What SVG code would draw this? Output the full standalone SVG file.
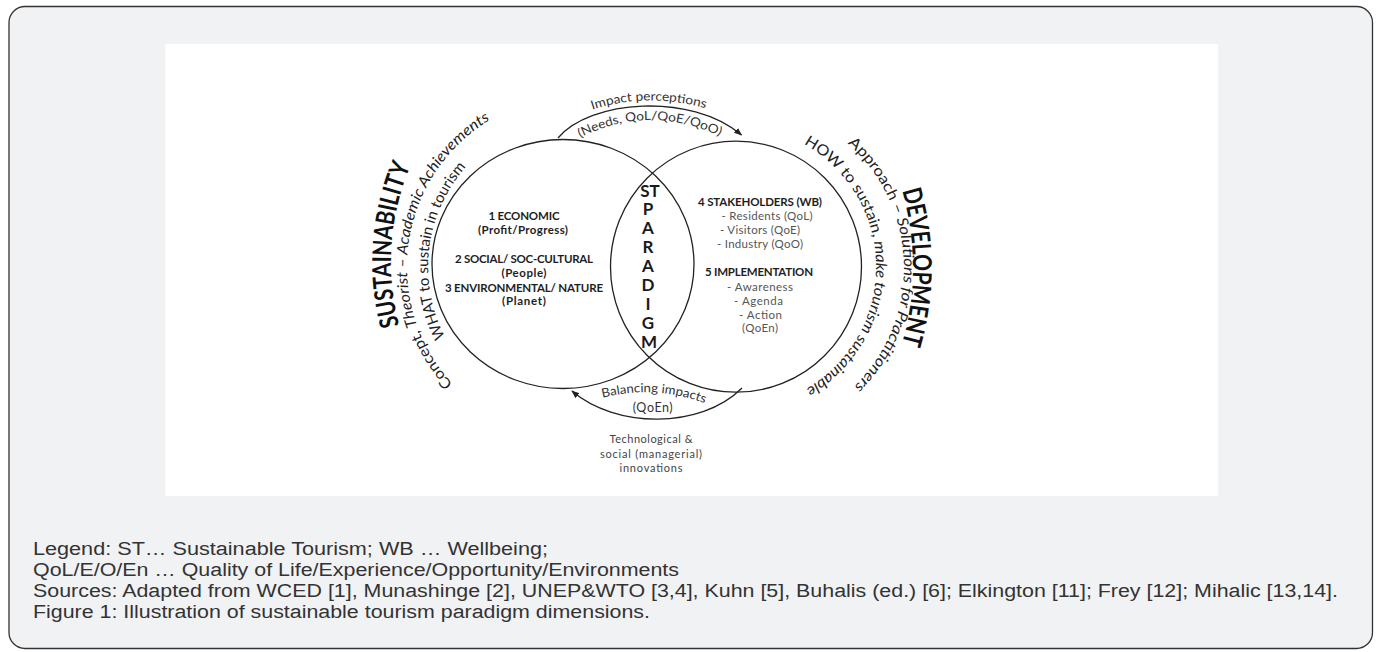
<svg xmlns="http://www.w3.org/2000/svg" width="1380" height="652" viewBox="0 0 1380 652">
<style>
.c{font-family:Lato,"Open Sans","Liberation Sans",sans-serif;}
.b{font-weight:bold;fill:#1e1e1e;}
.g{fill:#555;}
.ring{fill:none;stroke:#222;stroke-width:1.3;}
.con{fill:none;stroke:#222;stroke-width:1.3;}
.lg{font-family:"Liberation Sans",Arial,sans-serif;font-size:18px;fill:#333;}
.arc{font-size:15px;fill:#222;}
.big{font-size:26px;font-weight:bold;fill:#111;}
.sm{font-size:12.5px;fill:#333;}
.in{font-size:11.5px;}
.pl{font-size:17px;font-weight:bold;fill:#1a1a1a;}
</style>
<defs>
<marker id="arr" viewBox="0 0 10 10" refX="9" refY="5" markerWidth="8" markerHeight="8" markerUnits="userSpaceOnUse" orient="auto"><path d="M0,1 L10,5 L0,9 z" fill="#222"/></marker>
<path id="pSus" d="M 424.4 386.5 A 249 249 0 0 1 443.8 108.7"/>
<path id="pCon" d="M 498.2 418.9 A 172 172 0 0 1 543.2 98.8"/>
<path id="pWhat" d="M 510.4 401.5 A 151 151 0 0 1 545 119.9"/>
<path id="pDev" d="M 869.3 119.4 A 271 271 0 0 1 869.3 414.6"/>
<path id="pApp" d="M 790.7 110.6 A 166 166 0 0 1 798.8 422.4"/>
<path id="pHow" d="M 782.1 134.1 A 141 141 0 0 1 784.4 399.1"/>
<path id="pImp" d="M 586 112 Q 645 90 712 110"/>
<path id="pNeeds" d="M 574 141 Q 648 100 726 139"/>
<path id="pBal" d="M 598 399 Q 655 383 709 405"/>
</defs>

<g id="frame">
<rect x="9" y="6.5" width="1363.5" height="642" rx="16" ry="16" fill="#f1f2f4" stroke="#333" stroke-width="1.3"/>
<rect x="165.5" y="44" width="1052.5" height="452" fill="#ffffff"/>
</g>

<g id="left-circle">
<ellipse class="ring" cx="563" cy="264" rx="131" ry="124.5"/>
<g class="c b in" text-anchor="middle">
<text x="524" y="220" textLength="71">1 ECONOMIC</text>
<text x="523" y="233.5" textLength="90">(Profit/Progress)</text>
<text x="524" y="262.5" textLength="138">2 SOCIAL/ SOC-CULTURAL</text>
<text x="524" y="276.5" textLength="45">(People)</text>
<text x="524" y="291.5" textLength="158">3 ENVIRONMENTAL/ NATURE</text>
<text x="524" y="305" textLength="44">(Planet)</text>
</g>
</g>

<g id="right-circle">
<circle class="ring" cx="736" cy="266.7" r="125.5"/>
<g class="c in" text-anchor="middle">
<text class="b" x="760" y="206" textLength="124">4 STAKEHOLDERS (WB)</text>
<text class="g" x="767" y="220" textLength="91">- Residents (QoL)</text>
<text class="g" x="760" y="234" textLength="80">- Visitors (QoE)</text>
<text class="g" x="760" y="248.3" textLength="86">- Industry (QoO)</text>
<text class="b" x="759" y="276" textLength="108">5 IMPLEMENTATION</text>
<text class="g" x="760" y="290.7" textLength="66">- Awareness</text>
<text class="g" x="758.5" y="304.5" textLength="49">- Agenda</text>
<text class="g" x="760.5" y="319" textLength="43">- Action</text>
<text class="g" x="760" y="332" textLength="36">(QoEn)</text>
</g>
</g>

<g id="paradigm" class="c pl" text-anchor="middle">
<text x="650" y="196.5">ST</text>
<text x="648" y="215.4">P</text>
<text x="648" y="234.3">A</text>
<text x="648" y="253.1">R</text>
<text x="648" y="272">A</text>
<text x="648" y="290.9">D</text>
<text x="648" y="309.8">I</text>
<text x="648" y="328.6">G</text>
<text x="649" y="347.5">M</text>
</g>

<g id="sustainability" class="c" text-anchor="middle">
<text class="big"><textPath href="#pSus" startOffset="50%" textLength="163" lengthAdjust="spacingAndGlyphs">SUSTAINABILITY</textPath></text>
<text class="arc"><textPath href="#pCon" startOffset="50%" textLength="305" lengthAdjust="spacingAndGlyphs">Concept, <tspan font-style="italic">Theorist – Academic Achievements</tspan></textPath></text>
<text class="arc"><textPath href="#pWhat" startOffset="50%" textLength="182" lengthAdjust="spacingAndGlyphs">WHAT to sustain in tourism</textPath></text>
</g>

<g id="development" class="c" text-anchor="middle">
<text class="big"><textPath href="#pDev" startOffset="50%" textLength="155" lengthAdjust="spacingAndGlyphs">DEVELOPMENT</textPath></text>
<text class="arc"><textPath href="#pApp" startOffset="50%" textLength="273" lengthAdjust="spacingAndGlyphs">Approach – <tspan font-style="italic">Solutions for Practitioners</tspan></textPath></text>
<text class="arc"><textPath href="#pHow" startOffset="50%" textLength="297" lengthAdjust="spacingAndGlyphs">HOW to sustain, <tspan font-style="italic">make tourism sustainable</tspan></textPath></text>
</g>

<g id="connectors">
<path class="con" d="M 558 138 C 590 100, 690 92, 741.5 135" marker-end="url(#arr)"/>
<path class="con" d="M 742 388 C 700 430, 615 428, 572 391" marker-end="url(#arr)"/>
</g>

<g id="impact-label" class="c sm" text-anchor="middle">
<text><textPath href="#pImp" startOffset="50%" textLength="115" lengthAdjust="spacingAndGlyphs">Impact perceptions</textPath></text>
<text><textPath href="#pNeeds" startOffset="50%" textLength="145" lengthAdjust="spacingAndGlyphs">(Needs, QoL/QoE/QoO)</textPath></text>
</g>

<g id="balancing-label" class="c sm" text-anchor="middle">
<text><textPath href="#pBal" startOffset="50%" textLength="104" lengthAdjust="spacingAndGlyphs">Balancing impacts</textPath></text>
<text x="652.7" y="411.5" textLength="40">(QoEn)</text>
</g>

<g id="innovations" class="c" text-anchor="middle" font-size="11px" fill="#444">
<text x="651" y="443.3" textLength="83">Technological &amp;</text>
<text x="651" y="457.7" textLength="102">social (managerial)</text>
<text x="651" y="471.7" textLength="63">innovations</text>
</g>

<g id="legend" class="lg">
<text x="33" y="554.5" textLength="515" lengthAdjust="spacingAndGlyphs">Legend: ST… Sustainable Tourism; WB … Wellbeing;</text>
<text x="33" y="575.5" textLength="646" lengthAdjust="spacingAndGlyphs">QoL/E/O/En … Quality of Life/Experience/Opportunity/Environments</text>
<text x="33" y="596.5" textLength="1305" lengthAdjust="spacingAndGlyphs">Sources: Adapted from WCED [1], Munashinge [2], UNEP&amp;WTO [3,4], Kuhn [5], Buhalis (ed.) [6]; Elkington [11]; Frey [12]; Mihalic [13,14].</text>
<text x="33" y="617.5" textLength="617" lengthAdjust="spacingAndGlyphs">Figure 1: Illustration of sustainable tourism paradigm dimensions.</text>
</g>
</svg>
